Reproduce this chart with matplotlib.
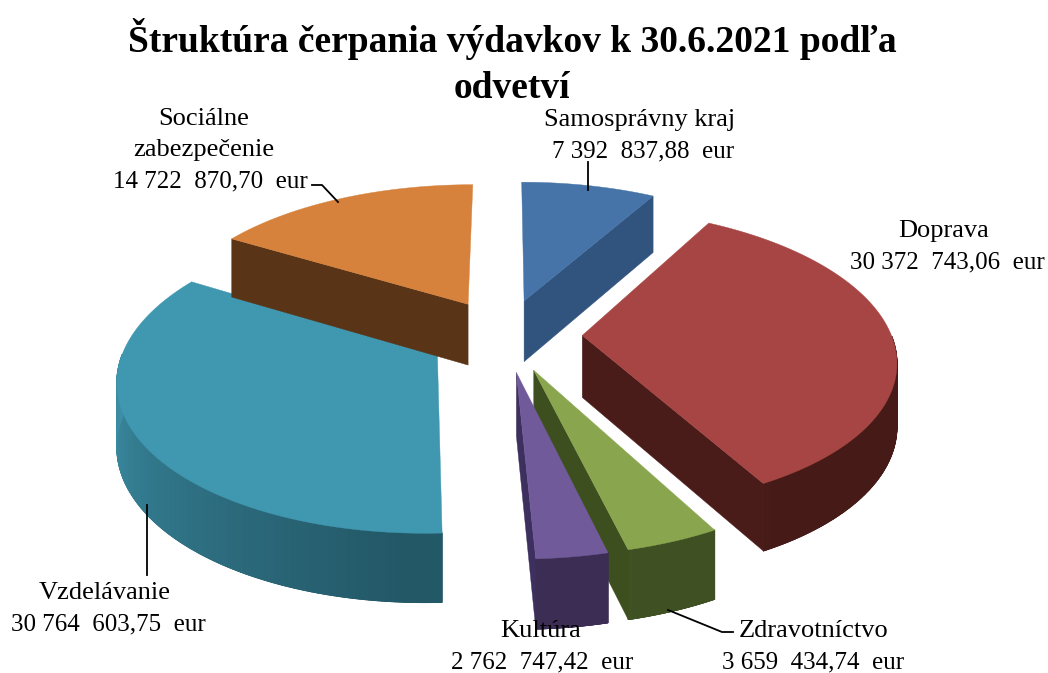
"""3D exploded pie: drawn by hand because matplotlib has no perspective pie."""
import numpy as np
import matplotlib

matplotlib.use("Agg")
import matplotlib.pyplot as plt
from matplotlib.collections import PolyCollection

TITLE = "Štruktúra čerpania výdavkov k 30.6.2021 podľa\nodvetví"
SECTORS = ["Samosprávny kraj", "Doprava", "Zdravotníctvo", "Kultúra", "Vzdelávanie", "Sociálne\nzabezpečenie"]
VALUES = [7392837.88, 30372743.06, 3659434.74, 2762747.42, 30764603.75, 14722870.70]
VALUE_LABELS = ["7 392  837,88  eur", "30 372  743,06  eur", "3 659  434,74  eur",
                "2 762  747,42  eur", "30 764  603,75  eur", "14 722  870,70  eur"]
TOP_COLORS = ["#4674a8", "#a64543", "#89a64e", "#715a9a", "#3f97b0", "#d6823c"]
RADIAL_COLORS = ["#31547f", "#4a1c19", "#3e4f1f", "#3d2f5e", "#1f5566", "#5a3416"]
WALL_LIGHT = ["#3a6090", "#4a1c19", "#42542a", "#3d2f57", "#3d8fa6", "#6f4019"]
WALL_DARK = ["#2a4a75", "#451a17", "#3e4f1f", "#3a2c52", "#235867", "#54300f"]

CX, CY = 505, 335
A, B, DEPTH = 309, 146, 62
PERSP = 0.15
EXPLODE = 0.25


def project(x, y, z=0.0):
    f = 1.0 / (1.0 - PERSP * y)
    return CX + A * x * f, CY + B * y * f + DEPTH * z * f ** 0.6


def blend(c1, c2, t):
    a = np.array(matplotlib.colors.to_rgb(c1))
    b = np.array(matplotlib.colors.to_rgb(c2))
    return tuple(a + (b - a) * t)


def draw_slice(ax, start, end, i):
    mid = (start + end) / 2
    ex, ey = EXPLODE * np.sin(mid), -EXPLODE * np.cos(mid)
    th = np.linspace(start, end, 240)
    xs, ys = ex + np.sin(th), ey - np.cos(th)
    top = np.column_stack(project(xs, ys))
    bot = np.column_stack(project(xs, ys, 1.0))
    apex_top = np.array(project(ex, ey))
    apex_bot = np.array(project(ex, ey, 1.0))

    # outer wall only on the front half of the circle
    z = 2 + i
    front = np.cos(th) < 0
    if front.any():
        t_f, top_f, bot_f = th[front], top[front], bot[front]
        ax.fill(*zip(*np.vstack([top_f, bot_f[::-1]])), color=WALL_DARK[i], lw=0.5, zorder=z)
        quads = [[top_f[j], top_f[j + 1], bot_f[j + 1], bot_f[j]] for j in range(len(t_f) - 1)]
        if i == 4:
            cols = [blend(WALL_LIGHT[i], WALL_DARK[i], np.clip((4.7 - t) / 1.5, 0, 1)) for t in t_f[:-1]]
        else:
            cols = [blend(WALL_LIGHT[i], WALL_DARK[i], (np.sin(t) + 1) / 2) for t in t_f[:-1]]
        ax.add_collection(PolyCollection(quads, facecolors=cols, edgecolors=cols,
                                         linewidths=0.7, zorder=z + 0.1))

    # only radial walls that face the viewer are drawn
    for k, normal in ((0, start - np.pi / 2), (-1, end + np.pi / 2)):
        if -np.cos(normal) > 0.01:
            pts = [apex_top, top[k], bot[k], apex_bot]
            ax.fill(*zip(*pts), color=RADIAL_COLORS[i], lw=0.3, zorder=z + 0.2)
    ax.fill(*zip(*np.vstack([apex_top, top])), color=TOP_COLORS[i], lw=0.3, zorder=z + 0.5)


fig = plt.figure(figsize=(10.48, 6.73), dpi=100)
ax = fig.add_axes([0, 0, 1, 1])
ax.set_xlim(0, 1048)
ax.set_ylim(673, 0)
ax.axis("off")
plt.rcParams["font.family"] = ["Liberation Serif", "DejaVu Serif"]

angles = np.concatenate([[0], np.cumsum(VALUES)]) / sum(VALUES) * 2 * np.pi
for idx in [0, 5, 1, 4, 3, 2]:
    draw_slice(ax, angles[idx], angles[idx + 1], idx)

ax.text(512, 62, TITLE, ha="center", va="center", fontsize=27, fontweight="bold",
        linespacing=1.4, color="black")

# value line centre x, name line centre x, value line baseline
LABEL_POS = [(643, 640, 157), (947, 944, 268), (813, 814, 668),
             (542, 541, 668), (108, 105, 630), (210, 204, 187)]
for (xv, xn, yb), name, val in zip(LABEL_POS, SECTORS, VALUE_LABELS):
    ax.text(xv, yb, val, ha="center", va="baseline", fontsize=18, color="black", zorder=20)
    for n, line in enumerate(reversed(name.split("\n"))):
        ax.text(xn, yb - 31 * (n + 1), line, ha="center", va="baseline", fontsize=19,
                color="black", zorder=20)

LEADERS = [((588, 162), (588, 190)), ((312, 185), (322, 185), (338, 202)),
           ((147, 505), (147, 575)), ((733, 632), (722, 632), (668, 610))]
for pts in LEADERS:
    ax.plot(*zip(*pts), color="black", lw=1.3, zorder=21)

fig.savefig("out.png", dpi=100)
